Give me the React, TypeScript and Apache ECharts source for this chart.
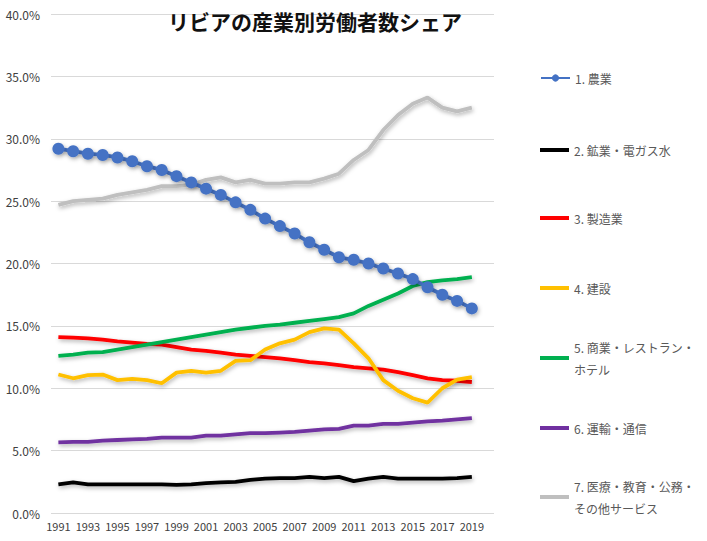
import React, { useEffect, useRef } from "react";
import * as echarts from "echarts";

const years = ["1991","1992","1993","1994","1995","1996","1997","1998","1999","2000","2001","2002","2003","2004","2005","2006","2007","2008","2009","2010","2011","2012","2013","2014","2015","2016","2017","2018","2019","2020"];
const yTicks = [0, 5, 10, 15, 20, 25, 30, 35, 40];

const seriesNames = [
  "1. 農業",
  "2. 鉱業・電ガス水",
  "3. 製造業",
  "4. 建設",
  "5. 商業・レストラン・ホテル",
  "6. 運輸・通信",
  "7. 医療・教育・公務・その他サービス",
];
const legendLabels = [
  "1. 農業",
  "2. 鉱業・電ガス水",
  "3. 製造業",
  "4. 建設",
  "5. 商業・レストラン・\nホテル",
  "6. 運輸・通信",
  "7. 医療・教育・公務・\nその他サービス",
];

const agriculture = [29.2,29.0,28.8,28.7,28.5,28.2,27.8,27.5,27.0,26.5,26.0,25.5,24.9,24.3,23.6,23.0,22.4,21.7,21.1,20.5,20.3,20.0,19.6,19.2,18.75,18.1,17.5,17.0,16.4];
const mining = [2.3,2.45,2.3,2.3,2.3,2.3,2.3,2.3,2.25,2.3,2.4,2.45,2.5,2.65,2.75,2.8,2.8,2.9,2.8,2.9,2.55,2.75,2.9,2.75,2.75,2.75,2.75,2.8,2.9];
const manufacturing = [14.1,14.05,14.0,13.9,13.75,13.65,13.55,13.5,13.3,13.1,13.0,12.85,12.7,12.6,12.5,12.4,12.25,12.1,12.0,11.85,11.7,11.6,11.5,11.3,11.05,10.8,10.65,10.6,10.5];
const construction = [11.1,10.8,11.05,11.1,10.65,10.75,10.65,10.4,11.25,11.4,11.25,11.4,12.2,12.25,13.1,13.6,13.9,14.5,14.8,14.7,13.6,12.4,10.65,9.8,9.2,8.85,10.0,10.7,10.9];
const trade = [12.6,12.7,12.85,12.9,13.1,13.3,13.5,13.7,13.9,14.1,14.3,14.5,14.7,14.85,15.0,15.1,15.25,15.4,15.55,15.7,16.0,16.6,17.1,17.6,18.2,18.5,18.65,18.75,18.9];
const transport = [5.66,5.7,5.7,5.8,5.85,5.9,5.95,6.05,6.05,6.05,6.2,6.2,6.3,6.4,6.4,6.45,6.5,6.6,6.7,6.75,7.0,7.0,7.15,7.15,7.25,7.35,7.4,7.5,7.6];
const services = [24.7,25.0,25.1,25.2,25.5,25.7,25.9,26.2,26.2,26.3,26.7,26.9,26.5,26.7,26.4,26.4,26.5,26.5,26.8,27.2,28.3,29.1,30.7,31.9,32.8,33.3,32.5,32.2,32.5];

const seriesData = [agriculture, mining, manufacturing, construction, trade, transport, services];
const colors = ["#4472C4", "#000000", "#FF0000", "#FFC000", "#00B050", "#7030A0", "#BFBFBF"];
const legendCenters = [78, 150, 218, 288, 358, 428, 497];

const FONT = "'Noto Sans CJK JP', 'Noto Sans', sans-serif";

export default function App() {
  const ref = useRef<HTMLDivElement>(null);
  useEffect(() => {
    if (!ref.current) return;
    const chart = echarts.init(ref.current, undefined, { renderer: "svg" });
    const lineH = 22;
    const legends = seriesNames.map((name, i) => {
      const multi = legendLabels[i].includes("\n");
      const first = i === 0;
      return {
        data: [first ? { name } : { name, icon: "rect" }],
        orient: "vertical",
        left: 540,
        top: multi ? legendCenters[i] - lineH * 1.5 : legendCenters[i] - lineH / 2,
        padding: 0,
        itemWidth: 29,
        itemHeight: first ? 9 : 4,
        formatter: () => legendLabels[i],
        textStyle: {
          fontFamily: FONT,
          fontSize: 12,
          color: "#595959",
          lineHeight: lineH,
          padding: multi ? [lineH, 0, 0, 0] : 0,
        },
      };
    });
    const series = seriesNames.map((name, i) => ({
      name,
      type: "line",
      data: seriesData[i],
      z: i === 0 ? 10 : 2 + i,
      symbol: i === 0 ? "circle" : "none",
      symbolSize: 12,
      showSymbol: i === 0,
      showAllSymbol: true,
      itemStyle: {
        color: colors[i],
        shadowColor: "rgba(0,0,0,0.3)",
        shadowBlur: 4,
        shadowOffsetX: 1,
        shadowOffsetY: 2,
      },
      lineStyle: {
        color: colors[i],
        width: 3.8,
        shadowColor: "rgba(0,0,0,0.3)",
        shadowBlur: 4,
        shadowOffsetX: 1,
        shadowOffsetY: 2,
      },
      emphasis: { disabled: true },
    }));
    chart.setOption({
      animation: false,
      title: {
        text: "リビアの産業別労働者数シェア",
        left: 163,
        top: 5,
        textStyle: { fontFamily: FONT, fontSize: 21, fontWeight: "bold", color: "#111" },
      },
      grid: { left: 51, right: 213, top: 14, bottom: 28, containLabel: false },
      xAxis: {
        type: "category",
        data: years,
        boundaryGap: true,
        axisLine: { show: false },
        axisTick: { show: false },
        axisLabel: { interval: 1, fontFamily: FONT, fontSize: 11, color: "#404040", margin: 7 },
        splitLine: { show: false },
      },
      yAxis: {
        type: "value",
        min: yTicks[0],
        max: yTicks[yTicks.length - 1],
        interval: 5,
        axisLine: { show: false },
        axisTick: { show: false },
        axisLabel: {
          fontFamily: FONT,
          fontSize: 12,
          color: "#404040",
          margin: 11,
          formatter: (v: number) => v.toFixed(1) + "%",
        },
        splitLine: { lineStyle: { color: "#D9D9D9", width: 1 } },
      },
      legend: legends,
      series,
    });
    return () => chart.dispose();
  }, []);
  return (
    <div
      ref={ref}
      style={{ position: "fixed", left: 0, top: 0, width: 707, height: 541, background: "#fff" }}
    />
  );
}
